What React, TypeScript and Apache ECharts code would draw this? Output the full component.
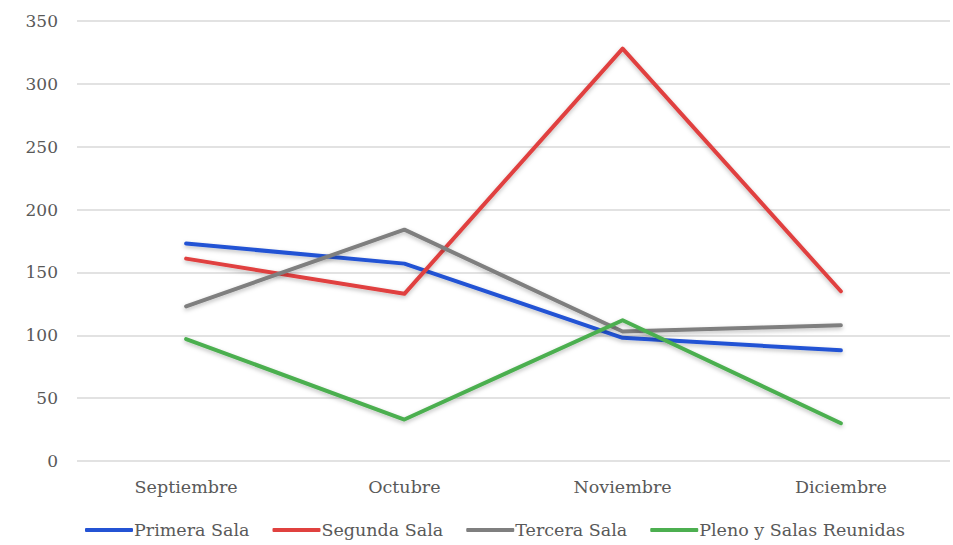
import React, { useEffect, useRef } from "react";
import * as echarts from "echarts";

const categories = ["Septiembre", "Octubre", "Noviembre", "Diciembre"];
const primeraSala = [173, 157, 98, 88];
const segundaSala = [161, 133, 328, 135];
const terceraSala = [123, 184, 103, 108];
const plenoSalas = [97, 33, 112, 30];
const seriesNames = ["Primera Sala", "Segunda Sala", "Tercera Sala", "Pleno y Salas Reunidas"];
const colors = ["#2453d4", "#e0413f", "#7f7f7f", "#4caf50"];

const FONT = "DejaVu Serif";

export default function App() {
  const ref = useRef<HTMLDivElement>(null);
  useEffect(() => {
    if (!ref.current) return;
    const chart = echarts.init(ref.current, undefined, { renderer: "svg" });
    const data = [primeraSala, segundaSala, terceraSala, plenoSalas];
    chart.setOption({
      animation: false,
      backgroundColor: "#ffffff",
      textStyle: { fontFamily: FONT },
      grid: { left: 77, right: 3, top: 21, bottom: 84 },
      legend: {
        bottom: 1,
        left: 80,
        itemWidth: 48,
        itemHeight: 4,
        itemGap: 23,
        icon: "roundRect",
        textStyle: { fontFamily: FONT, fontSize: 17.5, color: "#595959", padding: [0, 0, 0, -4] },
        data: seriesNames,
      },
      xAxis: {
        type: "category",
        data: categories,
        boundaryGap: true,
        axisLine: { show: false },
        axisTick: { show: false },
        axisLabel: { fontFamily: FONT, fontSize: 17.5, color: "#595959", margin: 17 },
      },
      yAxis: {
        type: "value",
        min: 0,
        max: 350,
        interval: 50,
        axisLine: { show: false },
        axisTick: { show: false },
        splitLine: { lineStyle: { color: "#d9d9d9", width: 1.5 } },
        axisLabel: { fontFamily: FONT, fontSize: 17, color: "#595959", margin: 19 },
      },
      series: data.map((d, i) => ({
        name: seriesNames[i],
        type: "line",
        data: d,
        symbol: "none",
        color: colors[i],
        lineStyle: {
          width: 4,
          color: colors[i],
          cap: "round",
          join: "round",
          shadowColor: "rgba(0,0,0,0.25)",
          shadowBlur: 4,
          shadowOffsetY: 2,
        },
      })),
    });
    return () => chart.dispose();
  }, []);
  return <div ref={ref} style={{ position: "fixed", left: 0, top: 0, width: 953, height: 545 }} />;
}
